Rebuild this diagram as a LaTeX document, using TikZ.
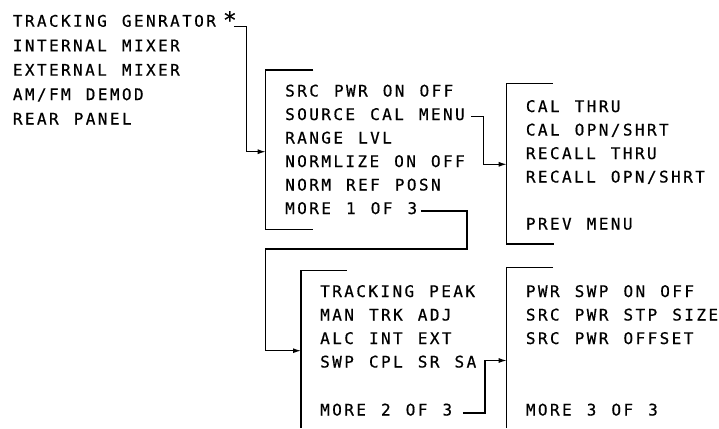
\documentclass[tikz,border=0pt]{standalone}
\usepackage{fontspec}
\usetikzlibrary{arrows.meta}
\newfontfamily\menufont[LetterSpace=15.1,WordSpace={1.251,0,0},FakeBold=0.6]{DejaVu Sans Mono}
\newcommand\mfont{\menufont\fontsize{16}{16}\selectfont}
\tikzset{
  menu/.style={anchor=base west, inner sep=0pt, font=\mfont},
  conn/.style={line width=1.2pt, line join=miter},
  arr/.style={conn, -{Latex[length=8pt,width=5pt]}},
  bracket/.style={line width=1.2pt}
}
\begin{document}
\begin{tikzpicture}[x=1pt,y=-1pt]
\path[use as bounding box, fill=white] (0,0) rectangle (719,428);
% left list
\node[menu] (l1) at (12.7,26.7) {TRACKING GENRATOR\kern7pt\lower1.5pt\hbox{\fontsize{23}{23}\selectfont *}};
\node[menu] (l2) at (12.7,51.3) {INTERNAL MIXER};
\node[menu] (l3) at (12.7,75.7) {EXTERNAL MIXER};
\node[menu] (l4) at (12.7,100.1) {AM/FM DEMOD};
\node[menu] (l5) at (12.7,124.5) {REAR PANEL};
% menu 1 of 3
\node[menu] (m1) at (285,96.5) {SRC PWR ON OFF};
\node[menu] (m2) at (285,120) {SOURCE CAL MENU};
\node[menu] (m3) at (285,143.5) {RANGE LVL};
\node[menu] (m4) at (285,167) {NORMLIZE ON OFF};
\node[menu] (m5) at (285,190.5) {NORM REF POSN};
\node[menu] (m6) at (285,214) {MORE 1 OF 3};
% source cal menu
\node[menu] (c1) at (525.7,112) {CAL THRU};
\node[menu] (c2) at (525.7,135.5) {CAL OPN/SHRT};
\node[menu] (c3) at (525.7,159) {RECALL THRU};
\node[menu] (c4) at (525.7,182.5) {RECALL OPN/SHRT};
\node[menu] (c5) at (525.7,229.5) {PREV MENU};
% menu 2 of 3
\node[menu] (n1) at (320,297) {TRACKING PEAK};
\node[menu] (n2) at (320,320.5) {MAN TRK ADJ};
\node[menu] (n3) at (320,344) {ALC INT EXT};
\node[menu] (n4) at (320,367.5) {SWP CPL SR SA};
\node[menu] (n5) at (320,415.5) {MORE 2 OF 3};
% menu 3 of 3
\node[menu] (p1) at (525.7,297) {PWR SWP ON OFF};
\node[menu] (p2) at (525.7,320.5) {SRC PWR STP SIZE};
\node[menu] (p3) at (525.7,344) {SRC PWR OFFSET};
\node[menu] (p4) at (525.7,415.5) {MORE 3 OF 3};
% brackets
\draw[bracket] (313.3,70) -- (265.7,70) -- (265.7,229.5) -- (313.3,229.5);
\draw[bracket] (552.7,83.3) -- (506.7,83.3) -- (506.7,244) -- (554,244);
\draw[bracket] (346.7,270.7) -- (301,270.7) -- (301,428);
\draw[bracket] (553,267.3) -- (506.7,267.3) -- (506.7,428);
% connector corners and entry points
\coordinate (k1) at (246.5,151.7);
\coordinate (b2in) at (265.7,151.7);
\coordinate (k2) at (483.5,164.3);
\coordinate (b3in) at (506.7,164.3);
\coordinate (k3a) at (467,249);
\coordinate (k3b) at (265.7,350.7);
\coordinate (b4in) at (301,350.7);
\coordinate (k4) at (485,360.5);
\coordinate (b5in) at (506.7,360.5);
% connectors
\draw[arr] ([xshift=-3pt,yshift=0pt]l1.base east) -| (k1) -- (b2in);
\draw[arr] ([xshift=6pt,yshift=3.5pt]m2.base east) -| (k2) -- (b3in);
\draw[arr] ([xshift=3.5pt,yshift=3pt]m6.base east) -| (k3a) -| (k3b) -- (b4in);
\draw[arr] ([xshift=10.5pt,yshift=2.5pt]n5.base east) -| (k4) -- (b5in);
\end{tikzpicture}
\end{document}
